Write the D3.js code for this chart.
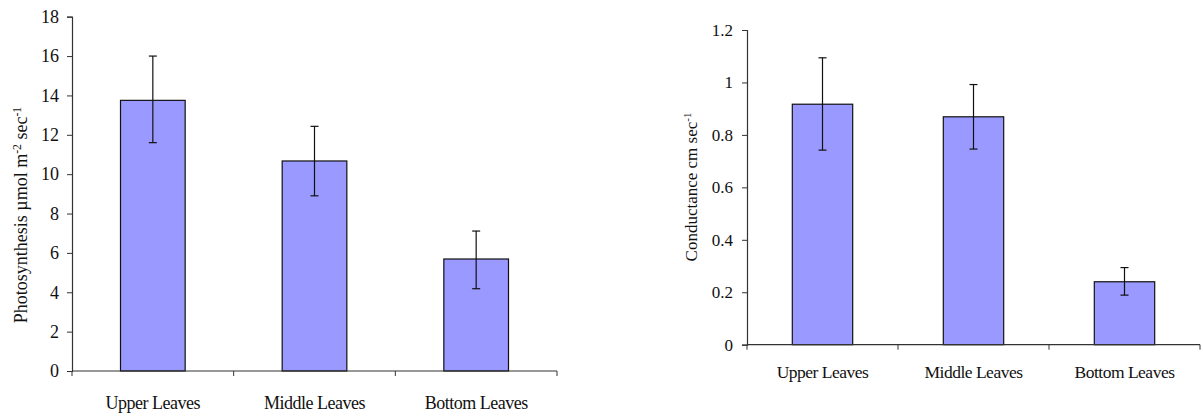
<!DOCTYPE html>
<html>
<head>
<meta charset="utf-8">
<script src="https://cdn.jsdelivr.net/npm/d3@7"></script>
<style>
  body { margin: 0; background: #fff; }
  svg text { font-family: "Liberation Serif", "Times New Roman", "DejaVu Serif", serif !important; }
</style>
</head>
<body>
<svg id="chart" width="1203" height="416"></svg>
<script>
// data
var categories = ["Upper Leaves", "Middle Leaves", "Bottom Leaves"];

var photoMean = [13.75, 10.67, 5.69];
var photoLow = [11.6, 8.9, 4.18];
var photoHigh = [16.0, 12.43, 7.11];
var photoTicks = [0, 2, 4, 6, 8, 10, 12, 14, 16, 18];

var condMean = [0.917, 0.869, 0.240];
var condLow = [0.742, 0.746, 0.189];
var condHigh = [1.094, 0.992, 0.294];
var condTicks = [0, 0.2, 0.4, 0.6, 0.8, 1, 1.2];

var svg = d3.select("#chart");

function drawPanel(opts) {
  var g = svg.append("g");

  var y = d3.scaleLinear().domain(opts.domain).range([opts.bottom, opts.top]);
  var x = d3.scaleBand().domain(categories).range([opts.left, opts.right]).padding(0);
  var barW = x.bandwidth() * 0.4;

  var rows = categories.map(function(c, i) {
    return { cat: c, mean: opts.mean[i], lo: opts.low[i], hi: opts.high[i] };
  });

  // bars
  g.selectAll("rect.bar")
    .data(rows)
    .enter()
    .append("rect")
    .attr("class", "bar")
    .attr("x", d => x(d.cat) + (x.bandwidth() - barW) / 2)
    .attr("y", d => y(d.mean))
    .attr("width", barW)
    .attr("height", d => y(0) - y(d.mean))
    .attr("fill", "#9999ff")
    .attr("stroke", "#111")
    .attr("stroke-width", 1.2);

  // error bars
  var eb = g.selectAll("g.err").data(rows).enter().append("g").attr("class", "err")
    .attr("stroke", "#111").attr("stroke-width", 1.2);
  eb.append("line")
    .attr("x1", d => x(d.cat) + x.bandwidth() / 2)
    .attr("x2", d => x(d.cat) + x.bandwidth() / 2)
    .attr("y1", d => y(d.lo))
    .attr("y2", d => y(d.hi));
  eb.append("line")
    .attr("x1", d => x(d.cat) + x.bandwidth() / 2 - 4)
    .attr("x2", d => x(d.cat) + x.bandwidth() / 2 + 4)
    .attr("y1", d => y(d.hi))
    .attr("y2", d => y(d.hi));
  eb.append("line")
    .attr("x1", d => x(d.cat) + x.bandwidth() / 2 - 4)
    .attr("x2", d => x(d.cat) + x.bandwidth() / 2 + 4)
    .attr("y1", d => y(d.lo))
    .attr("y2", d => y(d.lo));

  // y axis
  var yAxis = d3.axisLeft(y).tickValues(opts.ticks).tickSize(5).tickPadding(opts.tickPad)
    .tickFormat(d => String(d));
  var yg = g.append("g")
    .attr("transform", `translate(${opts.left}, 0)`)
    .call(yAxis);
  yg.attr("font-family", null);
  yg.selectAll("text").attr("font-size", opts.tickFont).attr("fill", "#111");

  // x axis: ticks at category boundaries
  var xg = g.append("g")
    .attr("transform", `translate(0, ${y(0)})`);
  xg.append("line")
    .attr("x1", opts.left).attr("x2", opts.right)
    .attr("stroke", "#333").attr("stroke-width", 1.2);
  var bounds = categories.map(c => x(c)).concat([x(categories[categories.length - 1]) + x.bandwidth()]);
  xg.selectAll("line.tk").data(bounds).enter().append("line")
    .attr("class", "tk")
    .attr("x1", d => d).attr("x2", d => d)
    .attr("y1", 0).attr("y2", 5)
    .attr("stroke", "#333");
  xg.selectAll("text").data(categories).enter().append("text")
    .attr("x", d => x(d) + x.bandwidth() / 2)
    .attr("y", opts.labelDy)
    .attr("text-anchor", "middle")
    .attr("font-size", opts.catFont)
    .attr("letter-spacing", "-0.5px")
    .attr("fill", "#111")
    .text(d => d);

  yg.select(".domain").attr("stroke", "#333").attr("stroke-width", 1.2);
  yg.selectAll(".tick line").attr("stroke", "#333");

  // y title
  var t = g.append("text")
    .attr("transform", `translate(${opts.titleX}, ${opts.titleY}) rotate(-90)`)
    .attr("text-anchor", "middle")
    .attr("font-size", opts.titleFont)
    .attr("fill", "#111");
  opts.title.forEach(function(p) {
    var s = t.append("tspan").text(p.text);
    if (p.sup) s.attr("font-size", opts.titleFont * 0.65).attr("baseline-shift", "super");
  });
}

drawPanel({
  domain: [0, 18], ticks: photoTicks,
  mean: photoMean, low: photoLow, high: photoHigh,
  left: 72, right: 557, top: 16.7, bottom: 371,
  tickFont: 18, tickPad: 8, catFont: 18, labelDy: 38,
  titleX: 27, titleY: 215, titleFont: 18,
  title: [{ text: "Photosynthesis µmol m" }, { text: "-2", sup: true }, { text: " sec" }, { text: "-1", sup: true }]
});

drawPanel({
  domain: [0, 1.2], ticks: condTicks,
  mean: condMean, low: condLow, high: condHigh,
  left: 747, right: 1200, top: 30, bottom: 344.7,
  tickFont: 17, tickPad: 9, catFont: 17.5, labelDy: 33,
  titleX: 697, titleY: 187, titleFont: 17,
  title: [{ text: "Conductance cm sec" }, { text: "-1", sup: true }]
});
</script>
</body>
</html>
